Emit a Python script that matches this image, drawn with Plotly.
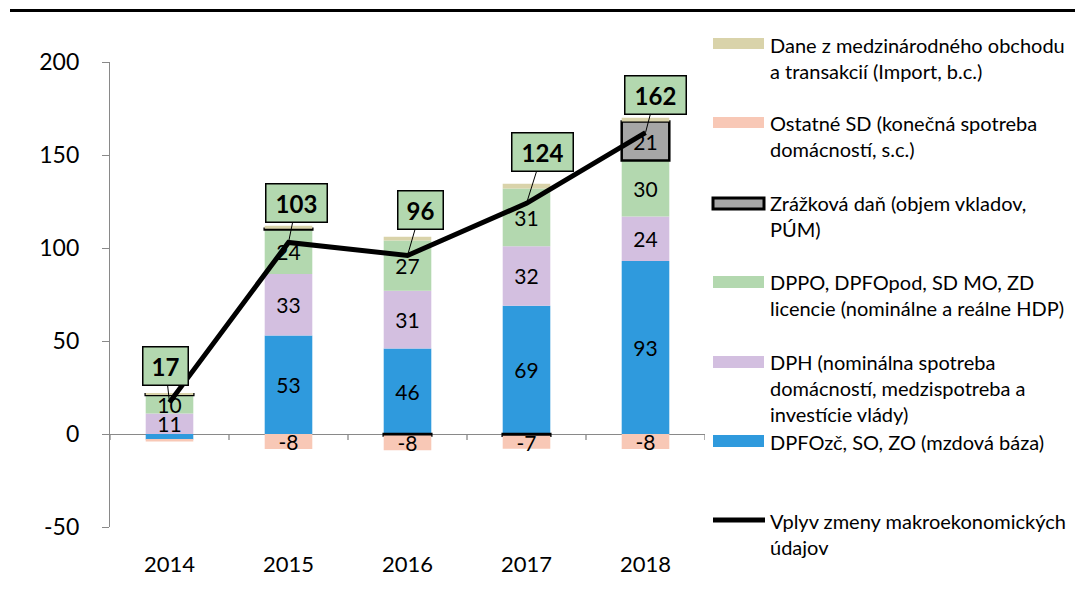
import plotly.graph_objects as go

# ---------------- data ----------------
years = ["2014", "2015", "2016", "2017", "2018"]
dpfo_zc = [-3, 53, 46, 69, 93]          # DPFOzč, SO, ZO
dph = [11, 33, 31, 32, 24]              # DPH
dppo = [10, 24, 27, 31, 30]             # DPPO, DPFOpod, ...
zrazkova = [0.4, 0.4, -0.8, -0.9, 21]   # Zrážková daň
ostatne = [-1, -8, -8, -7, -8]          # Ostatné SD
dane = [0.3, 1.5, 2, 2.5, 2]            # Dane z medzinárodného obchodu
vplyv = [17, 103, 96, 124, 162]         # Vplyv zmeny makro údajov

y_tickvals = [-50, 0, 50, 100, 150, 200]
y_ticktext = ["-50", "0", "50", "100", "150", "200"]

names = {
    "dane": "Dane z medzinárodného obchodu<br>a transakcií (Import, b.c.)",
    "ostatne": "Ostatné SD (konečná spotreba<br>domácností, s.c.)",
    "zrazkova": "Zrážková daň (objem vkladov,<br>PÚM)",
    "dppo": "DPPO, DPFOpod, SD MO, ZD<br>licencie (nominálne a reálne HDP)",
    "dph": "DPH (nominálna spotreba<br>domácností, medzispotreba a<br>investície vlády)",
    "dpfo": "DPFOzč, SO, ZO (mzdová báza)",
    "vplyv": "Vplyv zmeny makroekonomických<br>údajov",
}

colors = {
    "dpfo": "#2F9ADD",
    "dph": "#D3BFE0",
    "dppo": "#B3D8AF",
    "zrazkova": "#A6A6A6",
    "ostatne": "#F8C8B6",
    "dane": "#D9D3AA",
}

# ---------------- layout constants ----------------
OFF = 8                      # page body margin
W, H = 1085 - OFF, 590 - OFF
PL, PR, PT, PB = 110, 705, 62, 527   # plot box in page pixels
L, T = PL - OFF, PT - OFF
R, B = W - (PR - OFF), H - (PB - OFF)
FONT = "Lato"


def px_x(px):
    return (px - PL) / (PR - PL)


def px_y(py):
    return (PB - py) / (PB - PT)


def labels(vals):
    return [f"{v:.0f}" if abs(v) >= 5 else "" for v in vals]


fig = go.Figure()

bar_series = [
    ("dpfo", dpfo_zc),
    ("dph", dph),
    ("dppo", dppo),
    ("zrazkova", zrazkova),
    ("ostatne", ostatne),
    ("dane", dane),
]
for key, vals in bar_series:
    border = dict(color="black", width=2.5) if key == "zrazkova" else dict(width=0)
    fig.add_trace(go.Bar(
        x=years, y=vals, name=names[key], width=0.4,
        marker=dict(color=colors[key], line=border),
        text=labels(vals), textposition="inside", insidetextanchor="middle",
        textangle=0, textfont=dict(family=FONT, size=21, color="black"),
        showlegend=False, hoverinfo="skip",
    ))

fig.add_trace(go.Scatter(
    x=years, y=vplyv, name=names["vplyv"], mode="lines",
    line=dict(color="black", width=5), showlegend=False,
))

AXIS_GREY = "#898989"
shapes = []

# category-boundary tick marks on the zero line
for i in range(len(years) + 1):
    shapes.append(dict(
        type="line", xref="x", yref="y", ysizemode="pixel", yanchor=0,
        x0=i - 0.5, x1=i - 0.5, y0=0, y1=-6,
        line=dict(color=AXIS_GREY, width=1.3),
    ))

# ---------------- callouts for line values ----------------
callout_offsets = [(-4, -36), (8, -39), (13, -45), (16, -51), (10, -38)]
annotations = []
for i, (v, (ax, ay)) in enumerate(zip(vplyv, callout_offsets)):
    txt = f"{v}"
    annotations.append(dict(
        x=i, y=v, xref="x", yref="y", axref="pixel", ayref="pixel",
        text=f"<b>{txt}</b>",
        showarrow=True, arrowhead=0, arrowwidth=1, arrowcolor="black",
        ax=ax, ay=ay,
        bgcolor=colors["dppo"], bordercolor="black", borderwidth=1.5,
        borderpad=4, width=36 if len(txt) == 2 else 52,
        font=dict(family=FONT, size=24, color="black"),
    ))

# ---------------- manual legend ----------------
legend_items = [
    # key, swatch top, swatch bottom, text center y (page px)
    ("dane", 38, 49, 58.5),
    ("ostatne", 117, 128, 136),
    ("zrazkova", 198, 209, 216),
    ("dppo", 276, 288, 295),
    ("dph", 356, 368, 388),
    ("dpfo", 435, 447, 442),
]
for key, y0, y1, ty in legend_items:
    line = dict(color="black", width=3) if key == "zrazkova" else dict(width=0)
    shapes.append(dict(
        type="rect", xref="paper", yref="paper",
        x0=px_x(713), x1=px_x(764), y0=px_y(y1), y1=px_y(y0),
        fillcolor=colors[key], line=line, layer="above",
    ))
    annotations.append(dict(
        x=px_x(769), y=px_y(ty), xref="paper", yref="paper",
        text=names[key], showarrow=False, xanchor="left", yanchor="middle",
        align="left", borderpad=0,
        font=dict(family=FONT, size=20, color="black"),
    ))
shapes.append(dict(
    type="line", xref="paper", yref="paper",
    x0=px_x(713), x1=px_x(765), y0=px_y(520), y1=px_y(520),
    line=dict(color="black", width=5),
))
annotations.append(dict(
    x=px_x(769), y=px_y(533.5), xref="paper", yref="paper",
    text=names["vplyv"], showarrow=False, xanchor="left", yanchor="middle",
    align="left", borderpad=0,
    font=dict(family=FONT, size=20, color="black"),
))

# top border line
shapes.append(dict(
    type="line", xref="paper", yref="paper",
    x0=px_x(10), x1=px_x(1075), y0=px_y(10.5), y1=px_y(10.5),
    line=dict(color="black", width=3),
))

fig.update_layout(
    width=W, height=H,
    margin=dict(l=L, r=R, t=T, b=B, autoexpand=False),
    paper_bgcolor="white", plot_bgcolor="white",
    barmode="relative",
    font=dict(family=FONT, size=22, color="black"),
    uniformtext=dict(minsize=21, mode="show"),
    showlegend=False,
    xaxis=dict(
        type="category", categoryorder="array", categoryarray=years,
        range=[-0.5, 4.5], showline=False, ticks="", showgrid=False,
        zeroline=False, tickfont=dict(family=FONT, size=22, color="black"),
        ticklabelstandoff=22, automargin=False,
    ),
    yaxis=dict(
        range=[-50, 200], tickmode="array", tickvals=y_tickvals,
        ticktext=y_ticktext, showgrid=False,
        zeroline=True, zerolinecolor=AXIS_GREY, zerolinewidth=1.3,
        showline=True, linecolor=AXIS_GREY, linewidth=1.3,
        ticks="outside", ticklen=7, tickcolor=AXIS_GREY, tickwidth=1.3,
        tickfont=dict(family=FONT, size=23, color="black"),
        ticklabelstandoff=18, automargin=False,
    ),
    shapes=shapes,
    annotations=annotations,
)

fig.write_html("out.html")
